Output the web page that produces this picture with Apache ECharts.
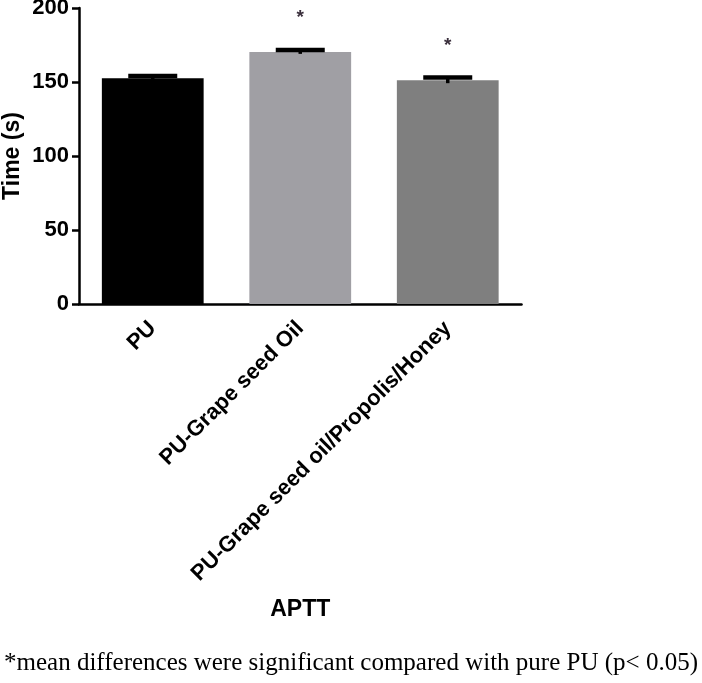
<!DOCTYPE html>
<html>
<head>
<meta charset="utf-8">
<script src="https://cdn.jsdelivr.net/npm/echarts@6/dist/echarts.min.js"></script>
<style>
html,body{margin:0;padding:0;background:#fff;}
#chart{width:702px;height:683px;}
</style>
</head>
<body>
<div id="chart"></div>
<script>
var categories = ['PU', 'PU-Grape seed Oil', 'PU-Grape seed oil/Propolis/Honey'];
var means = [152.5, 170.3, 151.1];
var errors = [1.6, 1.3, 1.9];
var significant = [false, true, true];
var barColors = ['#000000', '#a09fa4', '#7f7f7f'];
var yTicks = [0, 50, 100, 150, 200];

var chart = echarts.init(document.getElementById('chart'));
var font = "'Liberation Sans', Arial, sans-serif";

var barData = means.map(function (v, i) {
  return { value: v, itemStyle: { color: barColors[i] } };
});
var errData = means.map(function (v, i) {
  return [i, v, errors[i], significant[i] ? 1 : 0];
});

chart.setOption({
  animation: false,
  grid: { left: 79, right: 180.5, top: 8, bottom: 379, containLabel: false, outerBoundsMode: 'none' },
  xAxis: {
    type: 'category',
    data: categories,
    axisLine: { lineStyle: { color: '#000', width: 2.5 } },
    axisTick: { alignWithLabel: true, length: 8, lineStyle: { color: '#000', width: 2.5 } },
    axisLabel: {
      rotate: 45, margin: 21, color: '#000', fontFamily: font,
      fontWeight: 'bold', fontSize: 22, interval: 0
    },
    name: 'APTT',
    nameLocation: 'middle',
    nameMoveOverlap: false,
    nameGap: 294,
    nameTextStyle: { color: '#000', fontFamily: font, fontWeight: 'bold', fontSize: 23 }
  },
  yAxis: {
    type: 'value',
    min: 0, max: 200, interval: 50,
    axisLine: { show: true, lineStyle: { color: '#000', width: 2.5 } },
    axisTick: { show: true, length: 7, lineStyle: { color: '#000', width: 2.5 } },
    splitLine: { show: false },
    axisLabel: {
      margin: 10, color: '#000', fontFamily: font, fontWeight: 'bold', fontSize: 22,
      formatter: function (v) { return yTicks.indexOf(v) >= 0 ? String(v) : ''; }
    },
    name: 'Time (s)',
    nameLocation: 'middle',
    nameMoveOverlap: false,
    nameGap: 55,
    nameTextStyle: { color: '#000', fontFamily: font, fontWeight: 'bold', fontSize: 23 }
  },
  series: [
    {
      type: 'bar',
      data: barData,
      barWidth: '69%'
    },
    {
      type: 'custom',
      data: errData,
      z: 5,
      renderItem: function (params, api) {
        var i = api.value(0), m = api.value(1), e = api.value(2), sig = api.value(3);
        var top = api.coord([i, m + e]);
        var bot = api.coord([i, m - e]);
        var half = 24.5;
        var children = [
          { type: 'line', shape: { x1: top[0], y1: top[1], x2: bot[0], y2: bot[1] },
            style: { stroke: '#000', lineWidth: 3.5 } },
          { type: 'line', shape: { x1: top[0] - half, y1: top[1], x2: top[0] + half, y2: top[1] },
            style: { stroke: '#000', lineWidth: 4.5 } }
        ];
        if (sig) {
          children.push({ type: 'text', x: top[0], y: top[1] - 32,
            style: { text: '*', fill: '#3a2f3c', font: "bold 19px " + font, align: 'center', verticalAlign: 'middle' } });
        }
        return { type: 'group', children: children };
      }
    }
  ],
  graphic: [
    { type: 'text', left: 4, top: 651,
      style: { text: '*mean differences were significant compared with pure PU (p< 0.05)',
        fill: '#000', font: "25px 'Liberation Serif', 'Times New Roman', serif" } }
  ]
});
</script>
</body>
</html>
